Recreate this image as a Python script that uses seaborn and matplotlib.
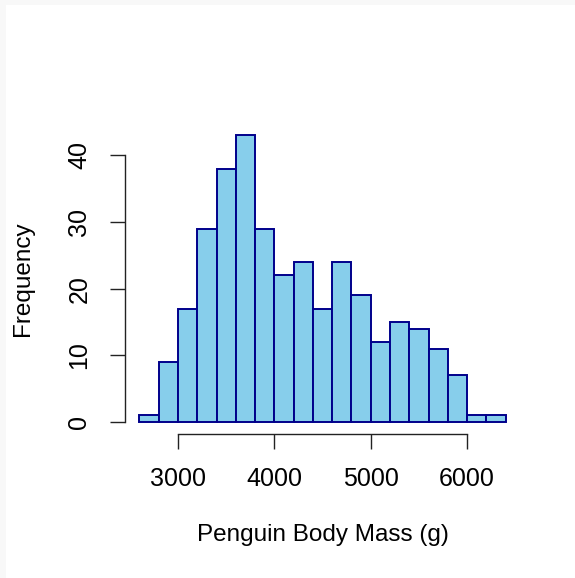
import matplotlib
matplotlib.use("Agg")
import matplotlib.pyplot as plt
from matplotlib.patches import Rectangle
import numpy as np
import seaborn as sns

# Histogram bins (g) and the count in each bin
bin_edges = [2600, 2800, 3000, 3200, 3400, 3600, 3800, 4000, 4200, 4400,
             4600, 4800, 5000, 5200, 5400, 5600, 5800, 6000, 6200, 6400]
counts = [1, 9, 17, 29, 38, 43, 29, 22, 24, 17, 24, 19, 12, 15, 14, 11, 7, 1, 1]
x_ticks = [3000, 4000, 5000, 6000]
y_ticks = [0, 10, 20, 30, 40]

sns.set_style("white")
plt.rcParams["font.family"] = ["Liberation Sans", "DejaVu Sans"]

fig = plt.figure(figsize=(5.75, 5.78), dpi=100)
fig.patch.set_facecolor("#f8f8f8")
fig.add_artist(Rectangle((6 / 575, 0), 1 - 6 / 575, 573 / 578,
                         transform=fig.transFigure, facecolor="white",
                         edgecolor="none", zorder=0))

ax = fig.add_axes([0.217, 0.250, 0.688, 0.536])
ax.set_facecolor("none")

mids = [(a + b) / 2 for a, b in zip(bin_edges[:-1], bin_edges[1:])]
sns.histplot(x=mids, weights=counts, bins=bin_edges, ax=ax,
             color="#87CEEB", edgecolor="#00008B", linewidth=1.4, alpha=1)

ax.set_xlim(2448, 6552)
ax.set_ylim(-1.72, 44.72)

for side in ("top", "right"):
    ax.spines[side].set_visible(False)
ax.spines["left"].set_bounds(0, 40)
ax.spines["bottom"].set_bounds(3000, 6000)
for side in ("left", "bottom"):
    ax.spines[side].set_color("#222222")
    ax.spines[side].set_linewidth(1.0)

ax.set_xticks(x_ticks)
ax.set_yticks(y_ticks)
ax.tick_params(axis="both", bottom=True, left=True, direction="out",
               length=11, width=1.0, color="#222222", labelsize=18,
               labelcolor="black")
ax.tick_params(axis="x", pad=13)
ax.tick_params(axis="y", pad=13)
for lab in ax.get_yticklabels():
    lab.set_rotation(90)
    lab.set_va("center")

ax.set_xlabel("Penguin Body Mass (g)", fontsize=17.5, color="black", labelpad=24)
ax.set_ylabel("Frequency", fontsize=17.5, color="black", labelpad=24)

fig.savefig("out.png", dpi=100)
